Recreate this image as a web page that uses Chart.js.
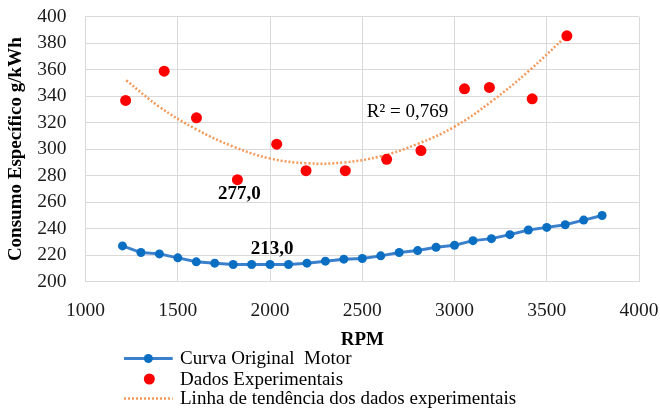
<!DOCTYPE html>
<html><head><meta charset="utf-8">
<script src="https://cdn.jsdelivr.net/npm/chart.js@4.4.1/dist/chart.umd.min.js"></script>
<style>html,body{margin:0;padding:0;background:#fff}#wrap{width:660px;height:411px;position:relative}</style>
</head><body><div id="wrap"><canvas id="c"></canvas></div>
<script>
// ---- data ----
const rpmOriginal = [1200,1300,1400,1500,1600,1700,1800,1900,2000,2100,2200,2300,2400,2500,2600,2700,2800,2900,3000,3100,3200,3300,3400,3500,3600,3700,3800];
const consumoOriginal = [227,222,221,218,215,214,213,213,213,213,214,215.5,217,217.5,219.5,222,223.5,226,227.5,231,232.5,235.5,239,241,243,246.5,250];
const rpmExperimental = [1217,1426,1601,1823,2036,2195,2408,2632,2818,3054,3189,3421,3609];
const consumoExperimental = [336.8,358.9,323.7,277,303.8,283.8,283.8,292.4,299,345.6,346.6,338,385.6];
const rpmTendencia = [1220,1400,1600,1800,2000,2200,2400,2600,2800,3000,3200,3400,3610];
const consumoTendencia = [352,332,315,302,293,289.4,290,294.7,304,317,336,358.7,386];
const xTicks = [1000,1500,2000,2500,3000,3500,4000];
const yTicks = [200,220,240,260,280,300,320,340,360,380,400];
const seriesNames = ['Curva Original  Motor','Dados Experimentais','Linha de tendência dos dados experimentais'];
const xTitle = 'RPM';
const yTitle = 'Consumo Específico g/kWh';
const r2Text = 'R² = 0,769';
const r2Anchor = {x: 2745, y: 328};

const FONT = '"Liberation Serif", "Times New Roman", serif';
const BLUE_LINE = '#3B80CC', BLUE_PT = '#0A6EC2', RED = '#FF0000', ORANGE = '#F3995A';

const fmt = v => v.toFixed(1).replace('.', ',');

const overlay = {
  id: 'overlay',
  afterDraw(chart) {
    const {ctx, scales: {x, y}} = chart;
    ctx.save();
    ctx.fillStyle = '#000';
    ctx.textAlign = 'center';
    ctx.textBaseline = 'middle';
    ctx.font = 'bold 19px ' + FONT;
    // label under experimental minimum
    let iMin = consumoExperimental.indexOf(Math.min(...consumoExperimental));
    ctx.fillText(fmt(consumoExperimental[iMin]), x.getPixelForValue(rpmExperimental[iMin]) + 2, y.getPixelForValue(consumoExperimental[iMin]) + 14);
    // label above original curve minimum (at 2000 rpm)
    const iO = rpmOriginal.indexOf(2000);
    ctx.fillText(fmt(consumoOriginal[iO]), x.getPixelForValue(rpmOriginal[iO]) + 2, y.getPixelForValue(consumoOriginal[iO]) - 15.5);
    // R² text
    ctx.font = '19px ' + FONT;
    ctx.fillText(r2Text, x.getPixelForValue(r2Anchor.x), y.getPixelForValue(r2Anchor.y));

    // legend
    const rows = [358.5, 379, 398.5];
    const x0 = 124, x1 = 172.7, xm = (x0 + x1) / 2, tx = 180;
    ctx.textAlign = 'left';
    ctx.font = '19px ' + FONT;
    ctx.strokeStyle = BLUE_LINE; ctx.lineWidth = 3;
    ctx.beginPath(); ctx.moveTo(x0, rows[0]); ctx.lineTo(x1, rows[0]); ctx.stroke();
    ctx.fillStyle = BLUE_PT; ctx.beginPath(); ctx.arc(xm, rows[0], 4.5, 0, Math.PI * 2); ctx.fill();
    ctx.fillStyle = RED; ctx.beginPath(); ctx.arc(xm + 1, rows[1], 5.5, 0, Math.PI * 2); ctx.fill();
    ctx.strokeStyle = ORANGE; ctx.lineWidth = 2.5; ctx.setLineDash([2, 2]);
    ctx.beginPath(); ctx.moveTo(x0, rows[2]); ctx.lineTo(x1, rows[2]); ctx.stroke();
    ctx.setLineDash([]);
    ctx.fillStyle = '#000';
    seriesNames.forEach((n, i) => ctx.fillText(n, tx, rows[i] + 1));
    ctx.restore();
  }
};

new Chart(document.getElementById('c'), {
  type: 'scatter',
  data: {
    datasets: [
      {
        label: seriesNames[0],
        data: rpmOriginal.map((v, i) => ({x: v, y: consumoOriginal[i]})),
        showLine: true,
        borderColor: BLUE_LINE,
        borderWidth: 3,
        pointRadius: 4.5,
        pointBackgroundColor: BLUE_PT,
        pointBorderColor: BLUE_PT,
        pointBorderWidth: 0,
        tension: 0
      },
      {
        label: seriesNames[1],
        data: rpmExperimental.map((v, i) => ({x: v, y: consumoExperimental[i]})),
        showLine: false,
        pointRadius: 5.5,
        pointBackgroundColor: RED,
        pointBorderColor: RED,
        pointBorderWidth: 0
      },
      {
        label: seriesNames[2],
        data: rpmTendencia.map((v, i) => ({x: v, y: consumoTendencia[i]})),
        showLine: true,
        borderColor: ORANGE,
        borderWidth: 2.5,
        borderDash: [2, 2],
        pointRadius: 0,
        tension: 0.4
      }
    ]
  },
  options: {
    responsive: true,
    maintainAspectRatio: false,
    animation: false,
    layout: {padding: 0},
    plugins: {legend: {display: false}, tooltip: {enabled: false}},
    scales: {
      x: {
        type: 'linear', min: 1000, max: 4000,
        afterBuildTicks: s => { s.ticks = xTicks.map(v => ({value: v})); },
        afterFit: s => { s.height = 129.3; s.paddingLeft = 0; s.paddingRight = 21; },
        grid: {color: '#D9D9D9', lineWidth: 1, drawTicks: false},
        border: {color: '#D9D9D9'},
        ticks: {padding: 17, color: '#1a1a1a', font: {family: FONT, size: 19.5}, maxRotation: 0, callback: v => String(v)},
        title: {display: true, text: xTitle, color: '#000', font: {family: FONT, size: 19, weight: 'bold'}, padding: {top: 0, bottom: 59.6}}
      },
      y: {
        type: 'linear', min: 200, max: 400,
        afterBuildTicks: s => { s.ticks = yTicks.map(v => ({value: v})); },
        afterFit: s => { s.width = 85.6; s.paddingTop = 16.7; s.paddingBottom = 0; },
        grid: {color: '#D9D9D9', lineWidth: 1, drawTicks: false},
        border: {color: '#D9D9D9'},
        ticks: {padding: 19, color: '#1a1a1a', font: {family: FONT, size: 19.5}, callback: v => String(v)},
        title: {display: true, text: yTitle, color: '#000', font: {family: FONT, size: 19, weight: 'bold'}, padding: {top: 4.6, bottom: 0}}
      }
    }
  },
  plugins: [overlay]
});
</script>
</body></html>
